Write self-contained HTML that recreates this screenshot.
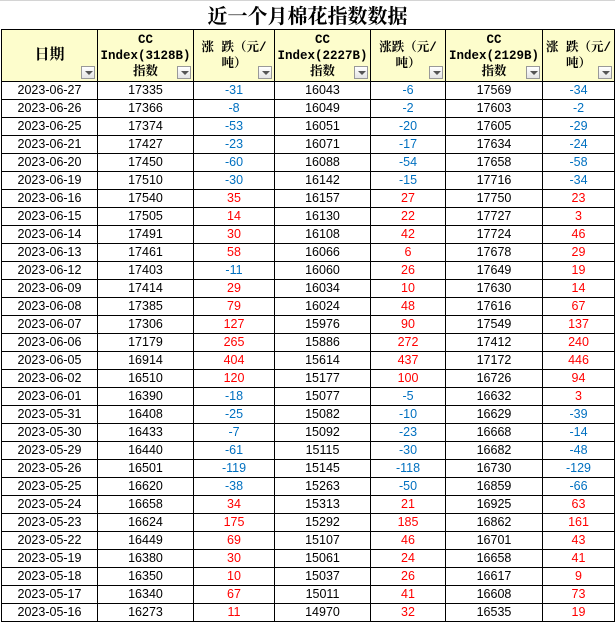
<!DOCTYPE html>
<html><head><meta charset="utf-8"><style>
body{margin:0;width:615px;height:621px;overflow:hidden;background:#fff;position:relative}
.title{position:absolute;left:0;top:0;width:615px;height:29px;border-top:1px solid #d4d4d4;text-align:center;font:bold 20px "Liberation Serif","Noto Serif CJK SC",serif;line-height:32px;color:#000}
table{position:absolute;left:1px;top:29px;border-collapse:collapse;table-layout:fixed;width:613px}
td{border:1px solid #000;padding:0;height:17px;text-align:center;font:12.5px "Liberation Sans","Noto Sans CJK SC",sans-serif;line-height:17px;white-space:nowrap;overflow:hidden}
th{border:1px solid #000;background:#fdfdcc;height:51px;padding:0;font:bold 12.5px "Liberation Mono","Noto Serif CJK SC",serif;line-height:16px;position:relative;vertical-align:middle}
th .a{position:absolute;right:2px;bottom:2px;width:14px;height:13px;border:1px solid #999;background:linear-gradient(#fff,#e4e4e4);box-sizing:border-box}
th .a:after{content:"";position:absolute;left:3px;top:4px;border-left:4px solid transparent;border-right:4px solid transparent;border-top:4px solid #555}
.b{color:#0070c0}.r{color:#f00}
</style></head><body>
<div class="title">近一个月棉花指数数据</div>
<table>
<col style="width:96px"><col style="width:96px"><col style="width:81px"><col style="width:96px"><col style="width:75px"><col style="width:97px"><col style="width:72px">
<tr><th style="font-size:15px">日期<span class="a"></span></th><th>CC<br>Index(3128B)<br>指数<span class="a"></span></th><th>涨 跌（元/<br>吨）<span class="a"></span></th><th>CC<br>Index(2227B)<br>指数<span class="a"></span></th><th>涨跌（元/<br>吨）<span class="a"></span></th><th>CC<br>Index(2129B)<br>指数<span class="a"></span></th><th>涨 跌（元/<br>吨）<span class="a"></span></th></tr>
<tr><td>2023-06-27</td><td>17335</td><td class="b">-31</td><td>16043</td><td class="b">-6</td><td>17569</td><td class="b">-34</td></tr>
<tr><td>2023-06-26</td><td>17366</td><td class="b">-8</td><td>16049</td><td class="b">-2</td><td>17603</td><td class="b">-2</td></tr>
<tr><td>2023-06-25</td><td>17374</td><td class="b">-53</td><td>16051</td><td class="b">-20</td><td>17605</td><td class="b">-29</td></tr>
<tr><td>2023-06-21</td><td>17427</td><td class="b">-23</td><td>16071</td><td class="b">-17</td><td>17634</td><td class="b">-24</td></tr>
<tr><td>2023-06-20</td><td>17450</td><td class="b">-60</td><td>16088</td><td class="b">-54</td><td>17658</td><td class="b">-58</td></tr>
<tr><td>2023-06-19</td><td>17510</td><td class="b">-30</td><td>16142</td><td class="b">-15</td><td>17716</td><td class="b">-34</td></tr>
<tr><td>2023-06-16</td><td>17540</td><td class="r">35</td><td>16157</td><td class="r">27</td><td>17750</td><td class="r">23</td></tr>
<tr><td>2023-06-15</td><td>17505</td><td class="r">14</td><td>16130</td><td class="r">22</td><td>17727</td><td class="r">3</td></tr>
<tr><td>2023-06-14</td><td>17491</td><td class="r">30</td><td>16108</td><td class="r">42</td><td>17724</td><td class="r">46</td></tr>
<tr><td>2023-06-13</td><td>17461</td><td class="r">58</td><td>16066</td><td class="r">6</td><td>17678</td><td class="r">29</td></tr>
<tr><td>2023-06-12</td><td>17403</td><td class="b">-11</td><td>16060</td><td class="r">26</td><td>17649</td><td class="r">19</td></tr>
<tr><td>2023-06-09</td><td>17414</td><td class="r">29</td><td>16034</td><td class="r">10</td><td>17630</td><td class="r">14</td></tr>
<tr><td>2023-06-08</td><td>17385</td><td class="r">79</td><td>16024</td><td class="r">48</td><td>17616</td><td class="r">67</td></tr>
<tr><td>2023-06-07</td><td>17306</td><td class="r">127</td><td>15976</td><td class="r">90</td><td>17549</td><td class="r">137</td></tr>
<tr><td>2023-06-06</td><td>17179</td><td class="r">265</td><td>15886</td><td class="r">272</td><td>17412</td><td class="r">240</td></tr>
<tr><td>2023-06-05</td><td>16914</td><td class="r">404</td><td>15614</td><td class="r">437</td><td>17172</td><td class="r">446</td></tr>
<tr><td>2023-06-02</td><td>16510</td><td class="r">120</td><td>15177</td><td class="r">100</td><td>16726</td><td class="r">94</td></tr>
<tr><td>2023-06-01</td><td>16390</td><td class="b">-18</td><td>15077</td><td class="b">-5</td><td>16632</td><td class="r">3</td></tr>
<tr><td>2023-05-31</td><td>16408</td><td class="b">-25</td><td>15082</td><td class="b">-10</td><td>16629</td><td class="b">-39</td></tr>
<tr><td>2023-05-30</td><td>16433</td><td class="b">-7</td><td>15092</td><td class="b">-23</td><td>16668</td><td class="b">-14</td></tr>
<tr><td>2023-05-29</td><td>16440</td><td class="b">-61</td><td>15115</td><td class="b">-30</td><td>16682</td><td class="b">-48</td></tr>
<tr><td>2023-05-26</td><td>16501</td><td class="b">-119</td><td>15145</td><td class="b">-118</td><td>16730</td><td class="b">-129</td></tr>
<tr><td>2023-05-25</td><td>16620</td><td class="b">-38</td><td>15263</td><td class="b">-50</td><td>16859</td><td class="b">-66</td></tr>
<tr><td>2023-05-24</td><td>16658</td><td class="r">34</td><td>15313</td><td class="r">21</td><td>16925</td><td class="r">63</td></tr>
<tr><td>2023-05-23</td><td>16624</td><td class="r">175</td><td>15292</td><td class="r">185</td><td>16862</td><td class="r">161</td></tr>
<tr><td>2023-05-22</td><td>16449</td><td class="r">69</td><td>15107</td><td class="r">46</td><td>16701</td><td class="r">43</td></tr>
<tr><td>2023-05-19</td><td>16380</td><td class="r">30</td><td>15061</td><td class="r">24</td><td>16658</td><td class="r">41</td></tr>
<tr><td>2023-05-18</td><td>16350</td><td class="r">10</td><td>15037</td><td class="r">26</td><td>16617</td><td class="r">9</td></tr>
<tr><td>2023-05-17</td><td>16340</td><td class="r">67</td><td>15011</td><td class="r">41</td><td>16608</td><td class="r">73</td></tr>
<tr><td>2023-05-16</td><td>16273</td><td class="r">11</td><td>14970</td><td class="r">32</td><td>16535</td><td class="r">19</td></tr>
</table>
</body></html>
